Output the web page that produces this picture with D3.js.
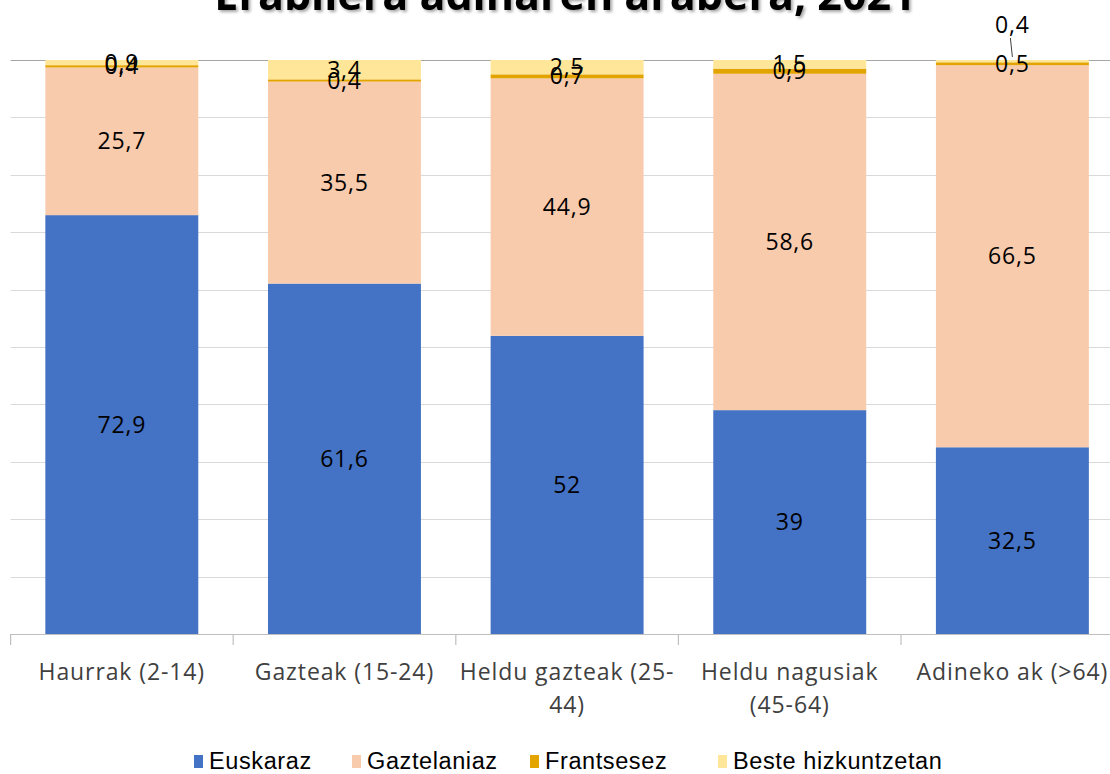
<!DOCTYPE html>
<html><head><meta charset="utf-8">
<script src="https://cdn.jsdelivr.net/npm/d3@7"></script>
<style>
body{margin:0;background:#fff;}
svg{display:block;font-family:"Open Sans","Noto Sans",sans-serif;}
</style></head>
<body>
<svg id="chart" width="1110" height="774"></svg>
<script>
const title = "Erabilera adinaren arabera, 2021";
const categories = [["Haurrak (2-14)"], ["Gazteak (15-24)"], ["Heldu gazteak (25-", "44)"], ["Heldu nagusiak", "(45-64)"], ["Adineko ak (>64)"]];
const seriesNames = ["Euskaraz", "Gaztelaniaz", "Frantsesez", "Beste hizkuntzetan"];
const euskaraz = [72.9, 61.6, 52, 39, 32.5];
const gaztelaniaz = [25.7, 35.5, 44.9, 58.6, 66.5];
const frantsesez = [0.4, 0.4, 0.7, 0.9, 0.5];
const beste = [0.9, 3.4, 2.5, 1.5, 0.4];
const colors = ["#4472c4", "#f8cbad", "#e3a400", "#ffe699"];
const yTicks = [0,10,20,30,40,50,60,70,80,90,100];

const svg = d3.select("#chart");
const W = 1110, H = 774;
const m = {left: 10.6, top: 60, bottom: 140};
const y0 = 634;

const rows = categories.map((c, i) => ({i, cat: c.join(" "), Euskaraz: euskaraz[i], Gaztelaniaz: gaztelaniaz[i], Frantsesez: frantsesez[i], "Beste hizkuntzetan": beste[i]}));
const stack = d3.stack().keys(seriesNames).offset(d3.stackOffsetExpand);
const layers = stack(rows);

const x = d3.scaleBand().domain(d3.range(categories.length)).range([m.left, m.left + 5*222.6]).paddingInner(0.313).paddingOuter(0.156);
const y = d3.scaleLinear().domain([0, 1]).range([y0, m.top]);

// gridlines
svg.append("g").selectAll("line").data(yTicks.slice(1)).join("line")
  .attr("x1", m.left).attr("x2", W)
  .attr("y1", d => Math.round(y(d/100)) + 0.5).attr("y2", d => Math.round(y(d/100)) + 0.5)
  .attr("stroke", d => d === 100 ? "#a6a6a6" : "#d9d9d9").attr("stroke-width", 1.2);

// bars
const g = svg.append("g");
layers.forEach((layer, li) => {
  g.append("g").attr("fill", colors[li]).selectAll("rect").data(layer).join("rect")
    .attr("x", (d, i) => x(i)).attr("width", x.bandwidth())
    .attr("y", d => y(d[1])).attr("height", d => y(d[0]) - y(d[1]));
});

// x axis
const xa = svg.append("g");
xa.append("line").attr("x1", m.left).attr("x2", W).attr("y1", y0 + 0.5).attr("y2", y0 + 0.5).attr("stroke", "#bfbfbf").attr("stroke-width", 1.2);
xa.selectAll("line.t").data(d3.range(categories.length + 1)).join("line").attr("class", "t")
  .attr("x1", i => m.left + i*222.6).attr("x2", i => m.left + i*222.6)
  .attr("y1", y0).attr("y2", y0 + 11).attr("stroke", "#bfbfbf").attr("stroke-width", 1.2);
xa.selectAll("text").data(categories).join("text")
  .attr("text-anchor", "middle").attr("font-size", 23).attr("letter-spacing", 0.9).attr("fill", "#404040")
  .each(function(lines, i) {
    const t = d3.select(this);
    lines.forEach((l, k) => t.append("tspan").attr("x", x(i) + x.bandwidth()/2).attr("y", 680 + k*33).text(l));
  });

// data labels
const fmt = v => String(v).replace(".", ",");
const lab = svg.append("g").attr("font-size", 23).attr("letter-spacing", 0.8).attr("fill", "#000").attr("text-anchor", "middle");
const values = [euskaraz, gaztelaniaz, frantsesez, beste];
layers.forEach((layer, li) => {
  layer.forEach((d, i) => {
    const cx = x(i) + x.bandwidth()/2;
    let cy = (y(d[0]) + y(d[1]))/2;
    const special = (li === 3 && i === 4);
    if (special) {
      cy = y(d[1]) - 35;
      lab.append("line").attr("x1", cx - 2).attr("y1", cy + 13).attr("x2", cx).attr("y2", y(d[1]) - 3)
        .attr("stroke", "#404040").attr("stroke-width", 1);
    }
    lab.append("text").attr("x", cx).attr("y", cy).attr("dy", "0.35em").text(fmt(values[li][i]));
  });
});

// title
svg.append("text").attr("x", 565).attr("y", 10).attr("text-anchor", "middle")
  .attr("font-size", 43).attr("font-weight", "bold").attr("fill", "#000")
  .style("filter", "drop-shadow(2px 2px 1.5px rgba(0,0,0,0.35))")
  .text(title);

// legend
const legX = [194, 352, 530, 718];
const leg = svg.append("g");
seriesNames.forEach((s, i) => {
  leg.append("rect").attr("x", legX[i]).attr("y", 755).attr("width", 9).attr("height", 13).attr("fill", colors[i]);
  leg.append("text").attr("x", legX[i] + 15).attr("y", 769).attr("font-family", "'Liberation Sans', Arial, sans-serif")
    .attr("font-size", 23.5).attr("letter-spacing", 0.6).attr("fill", "#000").text(s);
});
</script>
</body></html>
